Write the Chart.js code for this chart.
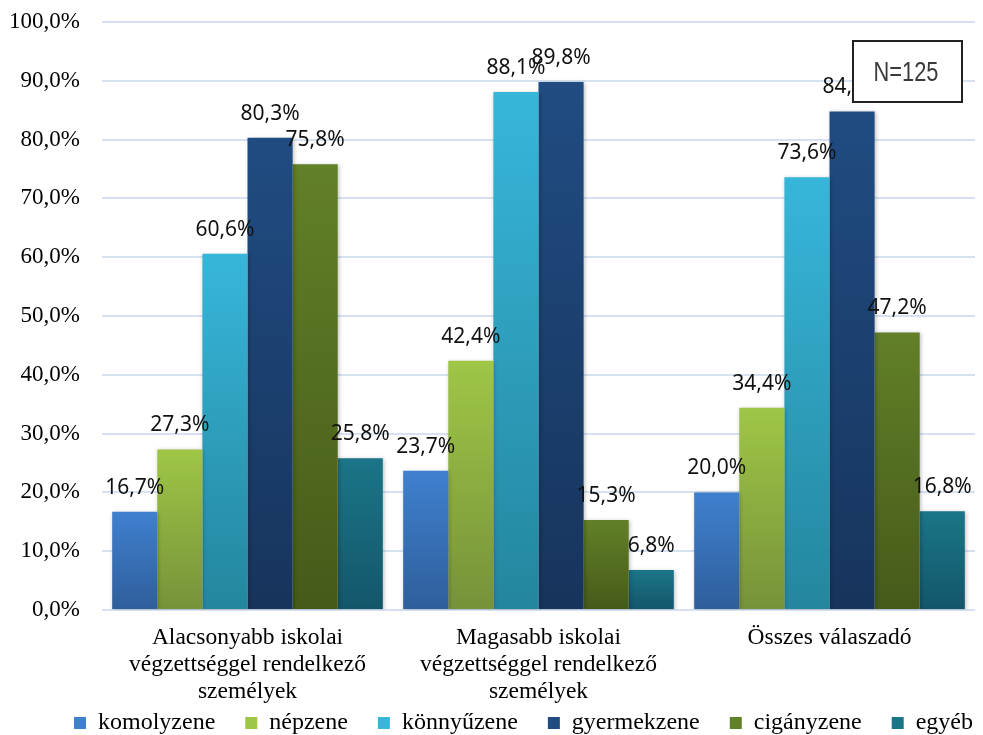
<!DOCTYPE html>
<html>
<head>
<meta charset="utf-8">
<script src="https://cdn.jsdelivr.net/npm/chart.js@4.4.1/dist/chart.umd.min.js"></script>
<style>
  html, body { margin: 0; padding: 0; background: #fff; }
  #wrap { width: 983px; height: 735px; }
</style>
</head>
<body>
<div id="wrap"><canvas id="musicChart"></canvas></div>
<script>
// Chart data
const groups = [
    ['Alacsonyabb iskolai', 'végzettséggel rendelkező', 'személyek'],
    ['Magasabb iskolai', 'végzettséggel rendelkező', 'személyek'],
    ['Összes válaszadó']
];
const seriesNames = ['komolyzene', 'népzene', 'könnyűzene', 'gyermekzene', 'cigányzene', 'egyéb'];
const komolyzene = [16.7, 23.7, 20.0];
const nepzene = [27.3, 42.4, 34.4];
const konnyuzene = [60.6, 88.1, 73.6];
const gyermekzene = [80.3, 89.8, 84.8];
const ciganyzene = [75.8, 15.3, 47.2];
const egyeb = [25.8, 6.8, 16.8];
const yTicks = [0, 10, 20, 30, 40, 50, 60, 70, 80, 90, 100];
const sampleNote = 'N=125';

// top / bottom colours of each bar gradient
const topColors = ['#3f80cf', '#9fc646', '#37b6da', '#204c82', '#628027', '#1b7588'];
const bottomColors = ['#2f5e9b', '#76923a', '#24869e', '#17345c', '#455a1a', '#13566a'];

const serif = '"Liberation Serif", "Times New Roman", serif';
const fmt = v => v.toFixed(1).replace('.', ',') + '%';

function barGradient(i) {
    return context => {
        const chart = context.chart;
        const y = chart.scales.y;
        if (!chart.chartArea || !y || context.dataIndex === undefined) return topColors[i];
        const v = context.raw;
        const g = chart.ctx.createLinearGradient(0, y.getPixelForValue(v), 0, y.getPixelForValue(0));
        g.addColorStop(0, topColors[i]);
        g.addColorStop(1, bottomColors[i]);
        return g;
    };
}

const allSeries = [komolyzene, nepzene, konnyuzene, gyermekzene, ciganyzene, egyeb];

// value labels above bars
const valueLabels = {
    id: 'valueLabels',
    afterDatasetsDraw(chart) {
        const ctx = chart.ctx;
        ctx.save();
        ctx.font = '21px "Noto Sans", "Open Sans", sans-serif';
        ctx.fillStyle = '#111';
        ctx.textAlign = 'center';
        ctx.textBaseline = 'middle';
        chart.data.datasets.forEach((ds, di) => {
            chart.getDatasetMeta(di).data.forEach((bar, idx) => {
                ctx.fillText(fmt(ds.data[idx]), bar.x, bar.y - 24);
            });
        });
        ctx.restore();
    }
};

// bar shadow
const barShadow = {
    id: 'barShadow',
    beforeDatasetsDraw(chart) {
        const ctx = chart.ctx;
        ctx.save();
        ctx.shadowColor = 'rgba(0,0,0,0.25)';
        ctx.shadowBlur = 4;
        ctx.shadowOffsetX = 1;
        ctx.shadowOffsetY = 1;
    },
    afterDatasetsDraw(chart) {
        chart.ctx.restore();
    }
};

// legend sits a bit right of centre in the original
const legendShift = {
    id: 'legendShift',
    afterLayout(chart) {
        if (chart.legend) {
            chart.legend.left += 33;
            chart.legend.right += 33;
        }
    }
};

// sample size box
const noteBox = {
    id: 'noteBox',
    afterDraw(chart) {
        const ctx = chart.ctx;
        ctx.save();
        ctx.fillStyle = '#fff';
        ctx.fillRect(853, 41, 109, 61);
        ctx.strokeStyle = '#222';
        ctx.lineWidth = 2;
        ctx.strokeRect(853, 41, 109, 61);
        ctx.fillStyle = '#3a3a3a';
        ctx.font = '28px "Liberation Sans", Arial, sans-serif';
        ctx.textAlign = 'center';
        ctx.textBaseline = 'middle';
        ctx.translate(906, 73);
        ctx.scale(0.78, 1);
        ctx.fillText(sampleNote, 0, 0);
        ctx.restore();
    }
};

new Chart(document.getElementById('musicChart'), {
    type: 'bar',
    data: {
        labels: groups,
        datasets: seriesNames.map((name, i) => ({
            label: name,
            data: allSeries[i],
            backgroundColor: barGradient(i),
            borderWidth: 0,
            barPercentage: 1.0,
            categoryPercentage: 0.93
        }))
    },
    options: {
        responsive: true,
        maintainAspectRatio: false,
        animation: false,
        devicePixelRatio: 1,
        layout: { padding: { top: 22, right: 8, left: 6, bottom: -10 } },
        plugins: {
            tooltip: { enabled: false },
            legend: {
                position: 'bottom',
                labels: {
                    boxWidth: 12,
                    boxHeight: 12,
                    padding: 30,
                    color: '#000',
                    font: { family: serif, size: 24 },
                    generateLabels: () => seriesNames.map((name, i) => ({
                        text: name,
                        fillStyle: topColors[i],
                        strokeStyle: topColors[i],
                        lineWidth: 0,
                        datasetIndex: i
                    }))
                }
            }
        },
        scales: {
            x: {
                grid: { display: false, drawTicks: false },
                border: { display: false },
                afterFit: axis => {
                    // let the 3-line labels run into the legend band instead of being clipped
                    axis.height = 71;
                    axis._computeLabelArea = () => null;
                },
                ticks: {
                    color: '#000',
                    padding: 14,
                    maxRotation: 0,
                    font: { family: serif, size: 23.5, lineHeight: 1.15 }
                }
            },
            y: {
                min: 0,
                max: 100,
                afterBuildTicks: axis => { axis.ticks = yTicks.map(v => ({ value: v })); },
                afterFit: axis => {
                    axis.width = 96;
                    axis.paddingTop = 0;
                    axis.paddingBottom = 0;
                },
                grid: { color: '#d6e2f2', lineWidth: 2, drawTicks: false },
                border: { display: false },
                ticks: {
                    color: '#000',
                    padding: 22,
                    font: { family: serif, size: 23 },
                    callback: v => fmt(v)
                }
            }
        }
    },
    plugins: [barShadow, valueLabels, legendShift, noteBox]
});
</script>
</body>
</html>
